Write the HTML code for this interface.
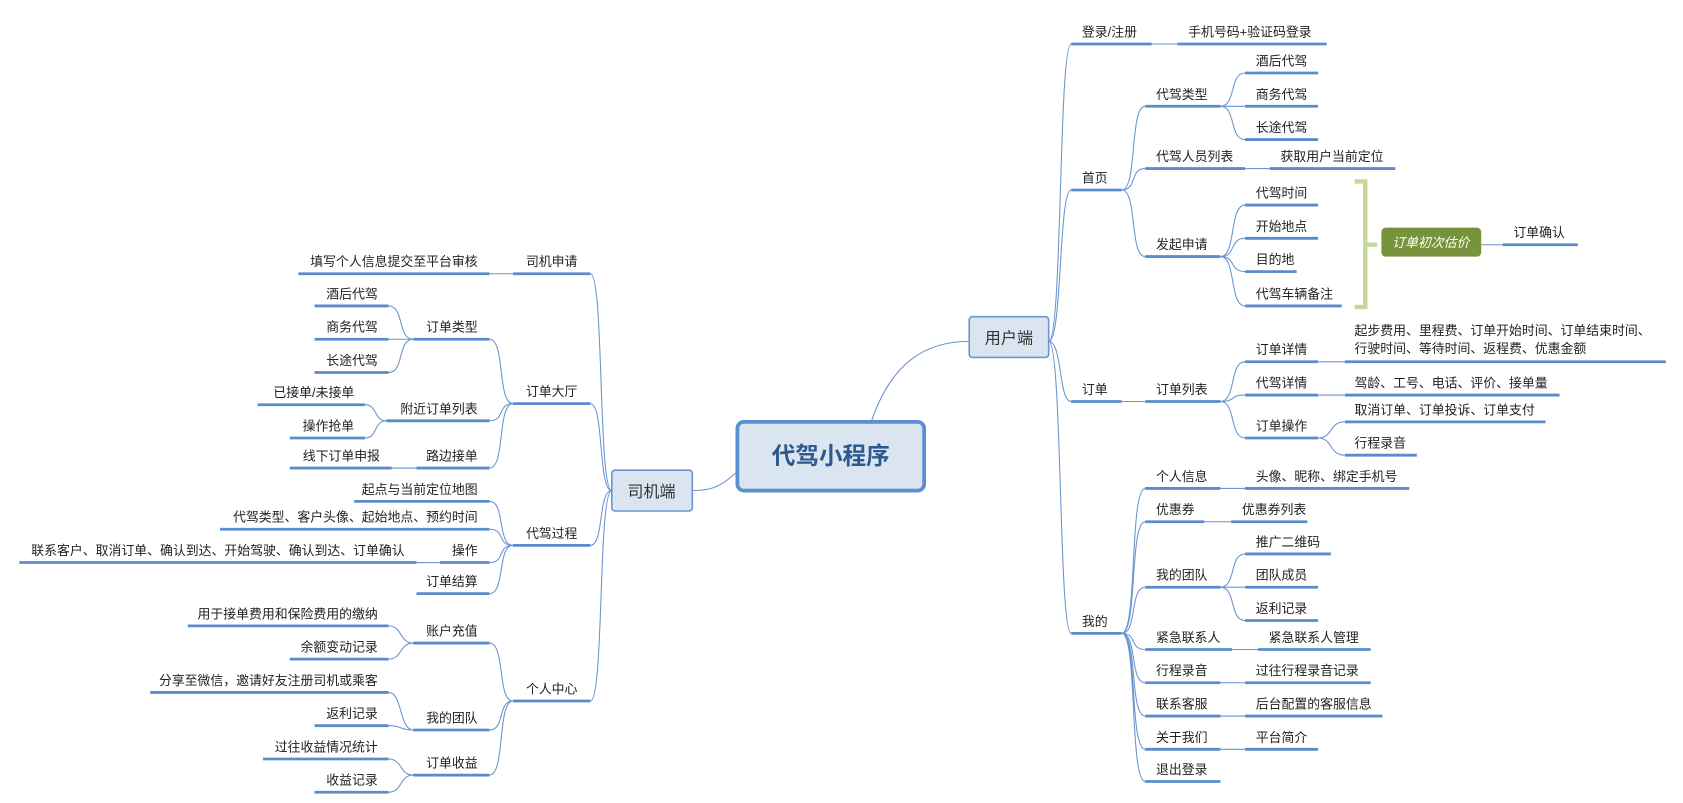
<!DOCTYPE html>
<html><head><meta charset="utf-8"><style>
html,body{margin:0;padding:0;background:#fff;}
svg{display:block;}
.u{stroke:#5a8bcb;stroke-width:2.6;}
.c{stroke:#6a95cf;stroke-width:1;fill:none;}
text{font-family:"Liberation Sans","Noto Sans CJK SC",sans-serif;font-size:12px;fill:#222;}
.r{text-anchor:end;}
</style></head><body>
<svg width="1683" height="803" viewBox="0 0 1568 748" preserveAspectRatio="none" xmlns="http://www.w3.org/2000/svg">
<!-- root connectors -->
<path class="c" d="M812,392 C830,340 860,318 903,318"/>
<path class="c" d="M686,440 C670,455 660,457 645,457"/>
<!-- root -->
<rect x="687" y="393" width="174" height="64" rx="6" fill="#dbe5f1" stroke="#5b8fd0" stroke-width="3.5"/>
<text x="774" y="432" style="font-size:22px;font-weight:bold;fill:#2c5a8f;text-anchor:middle">代驾小程序</text>
<rect x="903" y="295" width="74" height="38" rx="3" fill="#dbe5f1" stroke="#6a95cf" stroke-width="1.5"/>
<text x="940" y="320" style="font-size:15px;text-anchor:middle;fill:#333">用户端</text>
<rect x="570" y="438" width="75" height="38" rx="3" fill="#dbe5f1" stroke="#6a95cf" stroke-width="1.5"/>
<text x="607" y="463" style="font-size:15px;text-anchor:middle;fill:#333">司机端</text>

<!-- RIGHT trunk -->
<path class="c" d="M977,318 C990,318 986,41 998,41"/>
<path class="c" d="M977,318 C990,318 986,177 998,177"/>
<path class="c" d="M977,318 C990,318 986,374 998,374"/>
<path class="c" d="M977,318 C990,318 986,590 998,590"/>

<line class="u" x1="998" y1="41" x2="1073" y2="41"/><text x="1008" y="34">登录/注册</text>
<path class="c" d="M1073,41 L1097,41"/>
<line class="u" x1="1097" y1="41" x2="1236" y2="41"/><text x="1107" y="34">手机号码+验证码登录</text>

<line class="u" x1="998" y1="177" x2="1045" y2="177"/><text x="1008" y="170">首页</text>
<path class="c" d="M1045,177 C1060,177 1052,99 1067,99"/>
<path class="c" d="M1045,177 C1060,177 1052,157 1067,157"/>
<path class="c" d="M1045,177 C1060,177 1052,239 1067,239"/>
<line class="u" x1="1067" y1="99" x2="1137" y2="99"/><text x="1077" y="92">代驾类型</text>
<path class="c" d="M1137,99 C1152,99 1145,68 1160,68"/>
<path class="c" d="M1137,99 L1160,99"/>
<path class="c" d="M1137,99 C1152,99 1145,130 1160,130"/>
<line class="u" x1="1160" y1="68" x2="1228" y2="68"/><text x="1170" y="61">酒后代驾</text>
<line class="u" x1="1160" y1="99" x2="1228" y2="99"/><text x="1170" y="92">商务代驾</text>
<line class="u" x1="1160" y1="130" x2="1228" y2="130"/><text x="1170" y="123">长途代驾</text>
<line class="u" x1="1067" y1="157" x2="1160" y2="157"/><text x="1077" y="150">代驾人员列表</text>
<path class="c" d="M1160,157 L1183,157"/>
<line class="u" x1="1183" y1="157" x2="1300" y2="157"/><text x="1193" y="150">获取用户当前定位</text>
<line class="u" x1="1067" y1="239" x2="1137" y2="239"/><text x="1077" y="232">发起申请</text>
<path class="c" d="M1137,239 C1152,239 1145,191 1160,191"/>
<path class="c" d="M1137,239 C1152,239 1145,222 1160,222"/>
<path class="c" d="M1137,239 C1152,239 1145,253 1160,253"/>
<path class="c" d="M1137,239 C1152,239 1145,285 1160,285"/>
<line class="u" x1="1160" y1="191" x2="1228" y2="191"/><text x="1170" y="184">代驾时间</text>
<line class="u" x1="1160" y1="222" x2="1228" y2="222"/><text x="1170" y="215">开始地点</text>
<line class="u" x1="1160" y1="253" x2="1208" y2="253"/><text x="1170" y="246">目的地</text>
<line class="u" x1="1160" y1="285" x2="1250" y2="285"/><text x="1170" y="278">代驾车辆备注</text>
<path d="M1262,169 L1272,169 L1272,286 L1262,286 M1272,228 L1283,228" fill="none" stroke="#c4d79b" stroke-width="4"/>
<rect x="1287" y="212" width="93" height="27" rx="4" fill="#77933c"/>
<text x="1333" y="230" style="fill:#fff;font-style:italic;text-anchor:middle">订单初次估价</text>
<path class="c" d="M1380,228 L1400,228"/>
<line class="u" x1="1400" y1="228" x2="1470" y2="228"/><text x="1410" y="221">订单确认</text>

<line class="u" x1="998" y1="374" x2="1045" y2="374"/><text x="1008" y="367">订单</text>
<path class="c" d="M1045,374 L1067,374"/>
<line class="u" x1="1067" y1="374" x2="1137" y2="374"/><text x="1077" y="367">订单列表</text>
<path class="c" d="M1137,374 C1152,374 1145,337 1160,337"/>
<path class="c" d="M1137,374 C1152,374 1145,368 1160,368"/>
<path class="c" d="M1137,374 C1152,374 1145,408 1160,408"/>
<line class="u" x1="1160" y1="337" x2="1228" y2="337"/><text x="1170" y="330">订单详情</text>
<line class="u" x1="1160" y1="368" x2="1228" y2="368"/><text x="1170" y="361">代驾详情</text>
<line class="u" x1="1160" y1="408" x2="1228" y2="408"/><text x="1170" y="401">订单操作</text>
<path class="c" d="M1228,337 L1253,337"/>
<line class="u" x1="1253" y1="337" x2="1552" y2="337"/><text x="1262" y="312">起步费用、里程费、订单开始时间、订单结束时间、</text><text x="1262" y="329">行驶时间、等待时间、返程费、优惠金额</text>
<path class="c" d="M1228,368 L1253,368"/>
<line class="u" x1="1253" y1="368" x2="1453" y2="368"/><text x="1262" y="361">驾龄、工号、电话、评价、接单量</text>
<path class="c" d="M1228,408 C1242,408 1238,393 1253,393"/>
<path class="c" d="M1228,408 C1242,408 1238,424 1253,424"/>
<line class="u" x1="1253" y1="393" x2="1440" y2="393"/><text x="1262" y="386">取消订单、订单投诉、订单支付</text>
<line class="u" x1="1253" y1="424" x2="1320" y2="424"/><text x="1262" y="417">行程录音</text>

<line class="u" x1="998" y1="590" x2="1045" y2="590"/><text x="1008" y="583">我的</text>
<path class="c" d="M1045,590 C1060,590 1052,455 1067,455"/>
<path class="c" d="M1045,590 C1060,590 1052,486 1067,486"/>
<path class="c" d="M1045,590 C1060,590 1052,547 1067,547"/>
<path class="c" d="M1045,590 C1060,590 1052,605 1067,605"/>
<path class="c" d="M1045,590 C1060,590 1052,636 1067,636"/>
<path class="c" d="M1045,590 C1060,590 1052,667 1067,667"/>
<path class="c" d="M1045,590 C1060,590 1052,698 1067,698"/>
<path class="c" d="M1045,590 C1060,590 1052,728 1067,728"/>
<line class="u" x1="1067" y1="455" x2="1137" y2="455"/><text x="1077" y="448">个人信息</text>
<path class="c" d="M1137,455 L1160,455"/>
<line class="u" x1="1160" y1="455" x2="1313" y2="455"/><text x="1170" y="448">头像、昵称、绑定手机号</text>
<line class="u" x1="1067" y1="486" x2="1122" y2="486"/><text x="1077" y="479">优惠券</text>
<path class="c" d="M1122,486 L1147,486"/>
<line class="u" x1="1147" y1="486" x2="1218" y2="486"/><text x="1157" y="479">优惠券列表</text>
<line class="u" x1="1067" y1="547" x2="1137" y2="547"/><text x="1077" y="540">我的团队</text>
<path class="c" d="M1137,547 C1152,547 1145,516 1160,516"/>
<path class="c" d="M1137,547 L1160,547"/>
<path class="c" d="M1137,547 C1152,547 1145,578 1160,578"/>
<line class="u" x1="1160" y1="516" x2="1240" y2="516"/><text x="1170" y="509">推广二维码</text>
<line class="u" x1="1160" y1="547" x2="1228" y2="547"/><text x="1170" y="540">团队成员</text>
<line class="u" x1="1160" y1="578" x2="1228" y2="578"/><text x="1170" y="571">返利记录</text>
<line class="u" x1="1067" y1="605" x2="1148" y2="605"/><text x="1077" y="598">紧急联系人</text>
<path class="c" d="M1148,605 L1172,605"/>
<line class="u" x1="1172" y1="605" x2="1277" y2="605"/><text x="1182" y="598">紧急联系人管理</text>
<line class="u" x1="1067" y1="636" x2="1137" y2="636"/><text x="1077" y="629">行程录音</text>
<path class="c" d="M1137,636 L1160,636"/>
<line class="u" x1="1160" y1="636" x2="1277" y2="636"/><text x="1170" y="629">过往行程录音记录</text>
<line class="u" x1="1067" y1="667" x2="1137" y2="667"/><text x="1077" y="660">联系客服</text>
<path class="c" d="M1137,667 L1160,667"/>
<line class="u" x1="1160" y1="667" x2="1288" y2="667"/><text x="1170" y="660">后台配置的客服信息</text>
<line class="u" x1="1067" y1="698" x2="1137" y2="698"/><text x="1077" y="691">关于我们</text>
<path class="c" d="M1137,698 L1160,698"/>
<line class="u" x1="1160" y1="698" x2="1228" y2="698"/><text x="1170" y="691">平台简介</text>
<line class="u" x1="1067" y1="728" x2="1137" y2="728"/><text x="1077" y="721">退出登录</text>

<!-- LEFT trunk -->
<path class="c" d="M570,457 C557,457 563,255 550,255"/>
<path class="c" d="M570,457 C557,457 563,376 550,376"/>
<path class="c" d="M570,457 C557,457 563,508 550,508"/>
<path class="c" d="M570,457 C557,457 563,653 550,653"/>

<line class="u" x1="478" y1="255" x2="550" y2="255"/><text class="r" x="538" y="248">司机申请</text>
<path class="c" d="M478,255 L456,255"/>
<line class="u" x1="278" y1="255" x2="456" y2="255"/><text class="r" x="445" y="248">填写个人信息提交至平台审核</text>

<line class="u" x1="478" y1="376" x2="550" y2="376"/><text class="r" x="538" y="369">订单大厅</text>
<path class="c" d="M478,376 C463,376 471,316 456,316"/>
<path class="c" d="M478,376 C463,376 471,392 456,392"/>
<path class="c" d="M478,376 C463,376 471,436 456,436"/>
<line class="u" x1="385" y1="316" x2="456" y2="316"/><text class="r" x="445" y="309">订单类型</text>
<path class="c" d="M385,316 C370,316 377,285 362,285"/>
<path class="c" d="M385,316 L362,316"/>
<path class="c" d="M385,316 C370,316 377,347 362,347"/>
<line class="u" x1="293" y1="285" x2="362" y2="285"/><text class="r" x="352" y="278">酒后代驾</text>
<line class="u" x1="293" y1="316" x2="362" y2="316"/><text class="r" x="352" y="309">商务代驾</text>
<line class="u" x1="293" y1="347" x2="362" y2="347"/><text class="r" x="352" y="340">长途代驾</text>
<line class="u" x1="360" y1="392" x2="456" y2="392"/><text class="r" x="445" y="385">附近订单列表</text>
<path class="c" d="M360,392 C348,392 352,377 340,377"/>
<path class="c" d="M360,392 C348,392 352,408 340,408"/>
<line class="u" x1="240" y1="377" x2="340" y2="377"/><text class="r" x="330" y="370">已接单/未接单</text>
<line class="u" x1="270" y1="408" x2="340" y2="408"/><text class="r" x="330" y="401">操作抢单</text>
<line class="u" x1="388" y1="436" x2="456" y2="436"/><text class="r" x="445" y="429">路边接单</text>
<path class="c" d="M388,436 L365,436"/>
<line class="u" x1="270" y1="436" x2="365" y2="436"/><text class="r" x="354" y="429">线下订单申报</text>

<line class="u" x1="478" y1="508" x2="550" y2="508"/><text class="r" x="538" y="501">代驾过程</text>
<path class="c" d="M478,508 C463,508 471,467 456,467"/>
<path class="c" d="M478,508 C463,508 471,493 456,493"/>
<path class="c" d="M478,508 C463,508 471,524 456,524"/>
<path class="c" d="M478,508 C463,508 471,553 456,553"/>
<line class="u" x1="330" y1="467" x2="456" y2="467"/><text class="r" x="445" y="460">起点与当前定位地图</text>
<line class="u" x1="205" y1="493" x2="456" y2="493"/><text class="r" x="445" y="486">代驾类型、客户头像、起始地点、预约时间</text>
<line class="u" x1="410" y1="524" x2="456" y2="524"/><text class="r" x="445" y="517">操作</text>
<path class="c" d="M410,524 L388,524"/>
<line class="u" x1="18" y1="524" x2="388" y2="524"/><text class="r" x="377" y="517">联系客户、取消订单、确认到达、开始驾驶、确认到达、订单确认</text>
<line class="u" x1="388" y1="553" x2="456" y2="553"/><text class="r" x="445" y="546">订单结算</text>

<line class="u" x1="478" y1="653" x2="550" y2="653"/><text class="r" x="538" y="646">个人中心</text>
<path class="c" d="M478,653 C463,653 471,599 456,599"/>
<path class="c" d="M478,653 C463,653 471,680 456,680"/>
<path class="c" d="M478,653 C463,653 471,722 456,722"/>
<line class="u" x1="385" y1="599" x2="456" y2="599"/><text class="r" x="445" y="592">账户充值</text>
<path class="c" d="M385,599 C372,599 375,583 362,583"/>
<path class="c" d="M385,599 C372,599 375,614 362,614"/>
<line class="u" x1="175" y1="583" x2="362" y2="583"/><text class="r" x="352" y="576">用于接单费用和保险费用的缴纳</text>
<line class="u" x1="270" y1="614" x2="362" y2="614"/><text class="r" x="352" y="607">余额变动记录</text>
<line class="u" x1="385" y1="680" x2="456" y2="680"/><text class="r" x="445" y="673">我的团队</text>
<path class="c" d="M385,680 C372,680 375,645 362,645"/>
<path class="c" d="M385,680 C372,680 375,676 362,676"/>
<line class="u" x1="140" y1="645" x2="362" y2="645"/><text class="r" x="352" y="638">分享至微信，邀请好友注册司机或乘客</text>
<line class="u" x1="293" y1="676" x2="362" y2="676"/><text class="r" x="352" y="669">返利记录</text>
<line class="u" x1="385" y1="722" x2="456" y2="722"/><text class="r" x="445" y="715">订单收益</text>
<path class="c" d="M385,722 C372,722 375,707 362,707"/>
<path class="c" d="M385,722 C372,722 375,738 362,738"/>
<line class="u" x1="245" y1="707" x2="362" y2="707"/><text class="r" x="352" y="700">过往收益情况统计</text>
<line class="u" x1="293" y1="738" x2="362" y2="738"/><text class="r" x="352" y="731">收益记录</text>
</svg>
</body></html>
